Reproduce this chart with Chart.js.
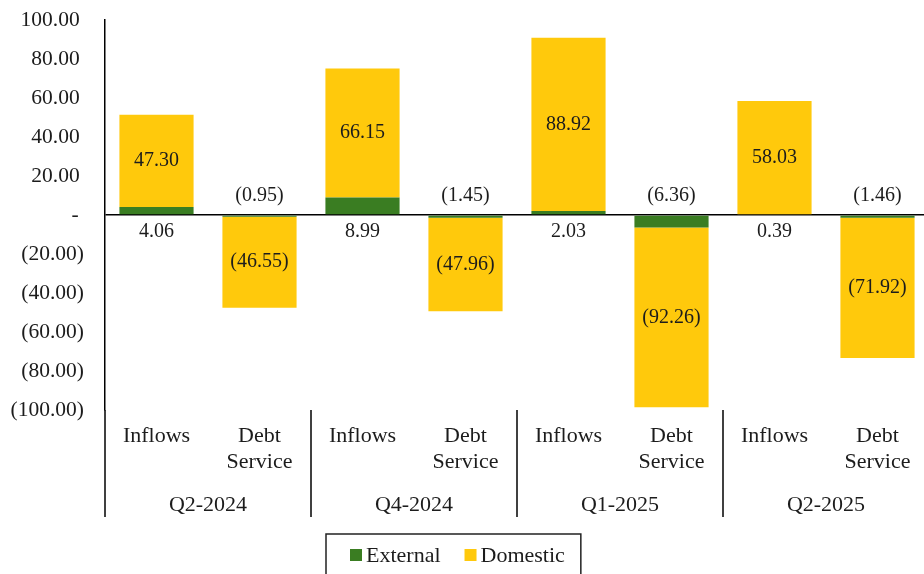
<!DOCTYPE html>
<html>
<head>
<meta charset="utf-8">
<script src="https://cdn.jsdelivr.net/npm/chart.js@4/dist/chart.umd.min.js"></script>
<style>
  html, body { margin: 0; padding: 0; background: #fff; overflow: hidden; }
  #wrap { width: 930px; height: 574px; }
</style>
</head>
<body>
<div id="wrap"><canvas id="c" width="930" height="574"></canvas></div>
<script>
// Quarters and the two flow types shown within each quarter
const quarters = ['Q2-2024', 'Q4-2024', 'Q1-2025', 'Q2-2025'];
const flowLabels = [['Inflows'], ['Debt', 'Service']];

// Values per bar (Inflows, Debt Service for each quarter)
const external = [4.06, -0.95, 8.99, -1.45, 2.03, -6.36, 0.39, -1.46];
const domestic = [47.30, -46.55, 66.15, -47.96, 88.92, -92.26, 58.03, -71.92];

// Value axis
const yMin = -100, yMax = 100, yStep = 20;

const seriesNames = ['External', 'Domestic'];
const seriesColors = ['#3a7d22', '#ffc90c'];

const serif = '"Liberation Serif", "Times New Roman", serif';
const textColor = '#1c1c1c';

const categories = [];
quarters.forEach(() => flowLabels.forEach(l => categories.push(l)));

const fmt = v => v < 0 ? '(' + Math.abs(v).toFixed(2) + ')' : v.toFixed(2);
const tickFmt = v => v === 0 ? '- ' : (v < 0 ? '(' + Math.abs(v).toFixed(2) + ')' : v.toFixed(2) + '\u2009');

const decor = {
  id: 'decor',
  afterDatasetsDraw(chart) {
    const { ctx, scales: { y } } = chart;
    const zero = y.getPixelForValue(0);
    ctx.save();
    ctx.font = '20px ' + serif;
    ctx.fillStyle = textColor;
    ctx.textAlign = 'center';
    ctx.textBaseline = 'middle';
    // domestic values inside their bars
    chart.getDatasetMeta(1).data.forEach((bar, i) => {
      ctx.fillText(fmt(domestic[i]), bar.x, (bar.y + bar.base) / 2);
    });
    // external values on the far side of the zero line
    chart.getDatasetMeta(0).data.forEach((bar, i) => {
      const v = external[i];
      ctx.fillText(fmt(v), bar.x, v >= 0 ? zero + 17 : zero - 19);
    });
    ctx.restore();
  },
  afterDraw(chart) {
    const { ctx, chartArea, scales: { x } } = chart;
    const n = flowLabels.length;
    const half = (x.getPixelForValue(1) - x.getPixelForValue(0)) / 2;
    ctx.save();
    ctx.strokeStyle = '#000';
    ctx.lineWidth = 1.5;
    ctx.font = '22px ' + serif;
    ctx.fillStyle = textColor;
    ctx.textAlign = 'center';
    ctx.textBaseline = 'middle';
    quarters.forEach((q, k) => {
      const first = x.getPixelForValue(k * n);
      const last = x.getPixelForValue(k * n + n - 1);
      const left = first - half;
      ctx.beginPath();
      ctx.moveTo(left, chartArea.bottom);
      ctx.lineTo(left, chartArea.bottom + 107);
      ctx.stroke();
      if (k === quarters.length - 1) {
        ctx.beginPath();
        ctx.moveTo(last + half, chartArea.bottom);
        ctx.lineTo(last + half, chartArea.bottom + 107);
        ctx.stroke();
      }
      ctx.fillText(q, (first + last) / 2, chartArea.bottom + 95);
    });

    // legend
    ctx.font = '22px ' + serif;
    ctx.textAlign = 'left';
    const top = 534, boxLeft = 326, midY = 555;
    let cx = boxLeft + 24;
    const items = chart.data.datasets;
    items.forEach((ds, i) => {
      ctx.fillStyle = ds.backgroundColor;
      ctx.fillRect(cx, midY - 6, 12, 12);
      cx += 16;
      ctx.fillStyle = textColor;
      ctx.fillText(ds.label, cx, midY + 1);
      cx += ctx.measureText(ds.label).width + (i < items.length - 1 ? 24 : 16);
    });
    ctx.strokeStyle = '#222';
    ctx.lineWidth = 1.5;
    ctx.strokeRect(boxLeft, top, cx - boxLeft, 60);
    ctx.restore();
  }
};

new Chart(document.getElementById('c'), {
  type: 'bar',
  data: {
    labels: categories,
    datasets: [
      { label: seriesNames[0], data: external, backgroundColor: seriesColors[0], borderWidth: 0 },
      { label: seriesNames[1], data: domestic, backgroundColor: seriesColors[1], borderWidth: 0 }
    ]
  },
  options: {
    responsive: false,
    animation: false,
    devicePixelRatio: 1,
    datasets: { bar: { barPercentage: 0.72, categoryPercentage: 1.0 } },
    layout: { padding: { top: 20, left: 0, right: 1, bottom: 0 } },
    plugins: { legend: { display: false }, tooltip: { enabled: false } },
    scales: {
      x: {
        stacked: true,
        grid: { display: false, drawTicks: false },
        border: { display: false },
        ticks: {
          color: textColor,
          font: { family: serif, size: 22, lineHeight: 1.2 },
          padding: 13,
          maxRotation: 0,
          autoSkip: false
        },
        afterFit(scale) { scale.height = 164; }
      },
      y: {
        stacked: true,
        min: yMin,
        max: yMax,
        z: 1,
        grid: {
          drawTicks: false,
          color: c => (c.tick && c.tick.value === 0) ? '#000' : 'rgba(0,0,0,0)',
          lineWidth: 1.5
        },
        border: { display: true, color: '#000', width: 1.5 },
        ticks: {
          stepSize: yStep,
          color: textColor,
          font: { family: serif, size: 21.5 },
          padding: 21,
          callback: v => tickFmt(v)
        },
        afterFit(scale) { scale.width = 105; scale.paddingTop = 0; scale.paddingBottom = 0; }
      }
    }
  },
  plugins: [decor]
});
</script>
</body>
</html>
